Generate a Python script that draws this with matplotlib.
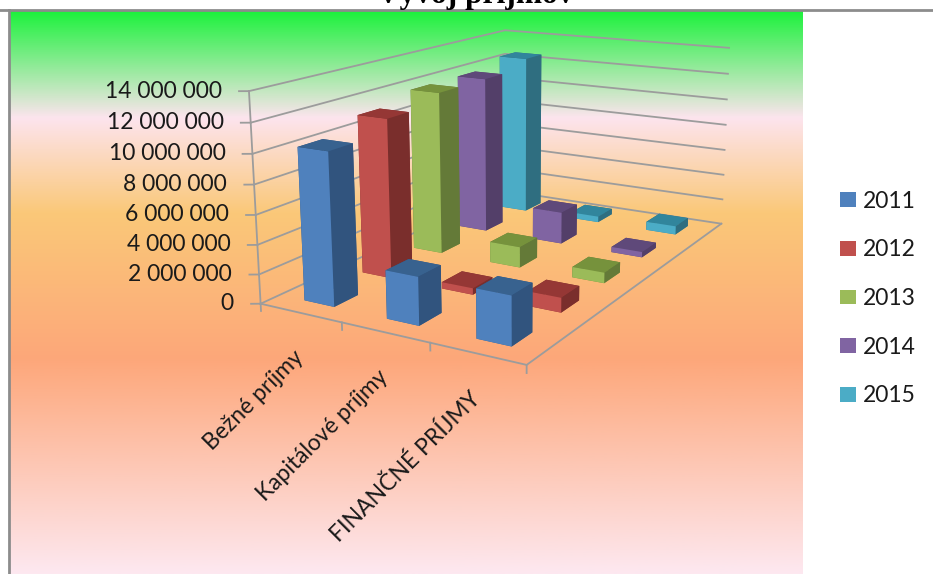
import numpy as np
import matplotlib
matplotlib.use("Agg")
import matplotlib.pyplot as plt
from matplotlib.patches import Patch
from matplotlib.colors import LinearSegmentedColormap
from mpl_toolkits.mplot3d import proj3d

categories = ["Bežné príjmy", "Kapitálové príjmy", "FINANČNÉ PRÍJMY"]
years = ["2011", "2012", "2013", "2014", "2015"]
bezne = [10300000, 11200000, 11900000, 11900000, 12550000]
kapitalove = [3200000, 450000, 1500000, 2400000, 450000]
financne = [3200000, 1000000, 750000, 400000, 650000]
z_ticks = [0, 2000000, 4000000, 6000000, 8000000, 10000000, 12000000, 14000000]
z_labels = ["0", "2 000 000", "4 000 000", "6 000 000", "8 000 000", "10 000 000", "12 000 000", "14 000 000"]

front = ["#4F81BD", "#C0504D", "#9BBB59", "#8064A2", "#4BACC6"]
side = ["#31547E", "#7A2E2C", "#647A38", "#533F69", "#2F6E80"]
top = ["#38628F", "#953735", "#76923C", "#5F497A", "#31859C"]
GRID = "#9C9C9C"
W, H = 933, 574

fig = plt.figure(figsize=(W / 100, H / 100), dpi=100, facecolor="white")

# background gradient and the grey frame
bg = LinearSegmentedColormap.from_list("bg", [
    (0.0, "#1CF23C"), (0.19, "#FDE4EE"), (0.36, "#FAC878"), (0.62, "#FDA77A"), (1.0, "#FDE8F0")])
bax = fig.add_axes([0, 0, 1, 1])
bax.axis("off")
bax.imshow(np.linspace(0, 1, 256)[:, None], cmap=bg, extent=[10, 803, 574, 10], aspect="auto")
bax.set_xlim(0, W)
bax.set_ylim(H, 0)
bax.plot([0, W], [10, 10], color="#8C8C8C", lw=2)
bax.plot([9, 9], [10, H], color="#8C8C8C", lw=2)

# camera fitted to the wall and floor corners of the reference
S = 548.5
ax = fig.add_axes([232.1 / W, 126.9 / H, S / W, S / H], projection="3d")
ax.patch.set_alpha(0)
ax.set_axis_off()
ax.computed_zorder = False
ax.set_xlim(0, 3, view_margin=0)
ax.set_ylim(0, 5, view_margin=0)
ax.set_zlim(0, 14000000, view_margin=0)
ax.set_proj_type("persp", focal_length=0.407)
ax.view_init(elev=14.224, azim=-60.321)
ax.set_box_aspect((1.256, 2.015, 0.891))
M = ax.get_proj()


def label2d(x, y, z, dx, dy, text, **kw):
    px, py, _ = proj3d.proj_transform(x, y, z, M)
    ax.annotate(text, xy=(px, py), xycoords="data", xytext=(dx, dy), textcoords="offset pixels",
                fontsize=16.5, family="Lato", color="#1A1A1A", annotation_clip=False, **kw)


for z, lab in zip(z_ticks, z_labels):
    ax.plot([0, 0, 3], [0, 5, 5], [z, z, z], color=GRID, lw=1.3, zorder=1)
    ax.plot([-0.08, 0], [-0.05, 0], [z, z], color=GRID, lw=1.3, zorder=1)
    label2d(0, 0, z, -27, 0, lab, ha="right", va="center")
ax.plot([0, 0], [0, 0], [0, 14000000], color=GRID, lw=1.3, zorder=1)
ax.plot([0, 3, 3], [0, 0, 5], [0, 0, 0], color=GRID, lw=1.3, zorder=1)
for i in range(4):
    ax.plot([i, i], [0, 0], [0, -500000], color=GRID, lw=1.3, zorder=1)

# painter's order: back category first, last year first
values = [bezne, kapitalove, financne]
width_x = 0.37
width_y = 0.40
zo = 2
for i in range(3):
    for j in range(4, -1, -1):
        ax.bar3d(i + 0.5 - width_x / 2, j + 0.5 - width_y / 2, 0, width_x, width_y, values[i][j],
                 color=[top[j], top[j], front[j], side[j], side[j], side[j]],
                 shade=False, zorder=zo)
        zo += 1

for i, name in enumerate(categories):
    label2d(i + 0.5, 0, 0, -8, -34, name, rotation=45, ha="right", va="top", rotation_mode="anchor")

handles = [Patch(facecolor=col, edgecolor="none", label=y) for col, y in zip(front, years)]
fig.legend(handles=handles, loc="center left", bbox_to_anchor=(840 / W, 1 - 298.5 / H), frameon=False,
           handlelength=0.7, handleheight=0.61, labelspacing=1.21, handletextpad=0.3,
           borderpad=0, borderaxespad=0, prop={"family": "Lato", "size": 16.5}, labelcolor="#1A1A1A")

# the title is cut by the top edge in the reference too
fig.text(475 / W, 1 - 2.5 / H, "Vývoj príjmov", ha="center", va="baseline", fontsize=22.6,
         family="Liberation Serif", weight="bold")

fig.savefig("out.png", dpi=100)
